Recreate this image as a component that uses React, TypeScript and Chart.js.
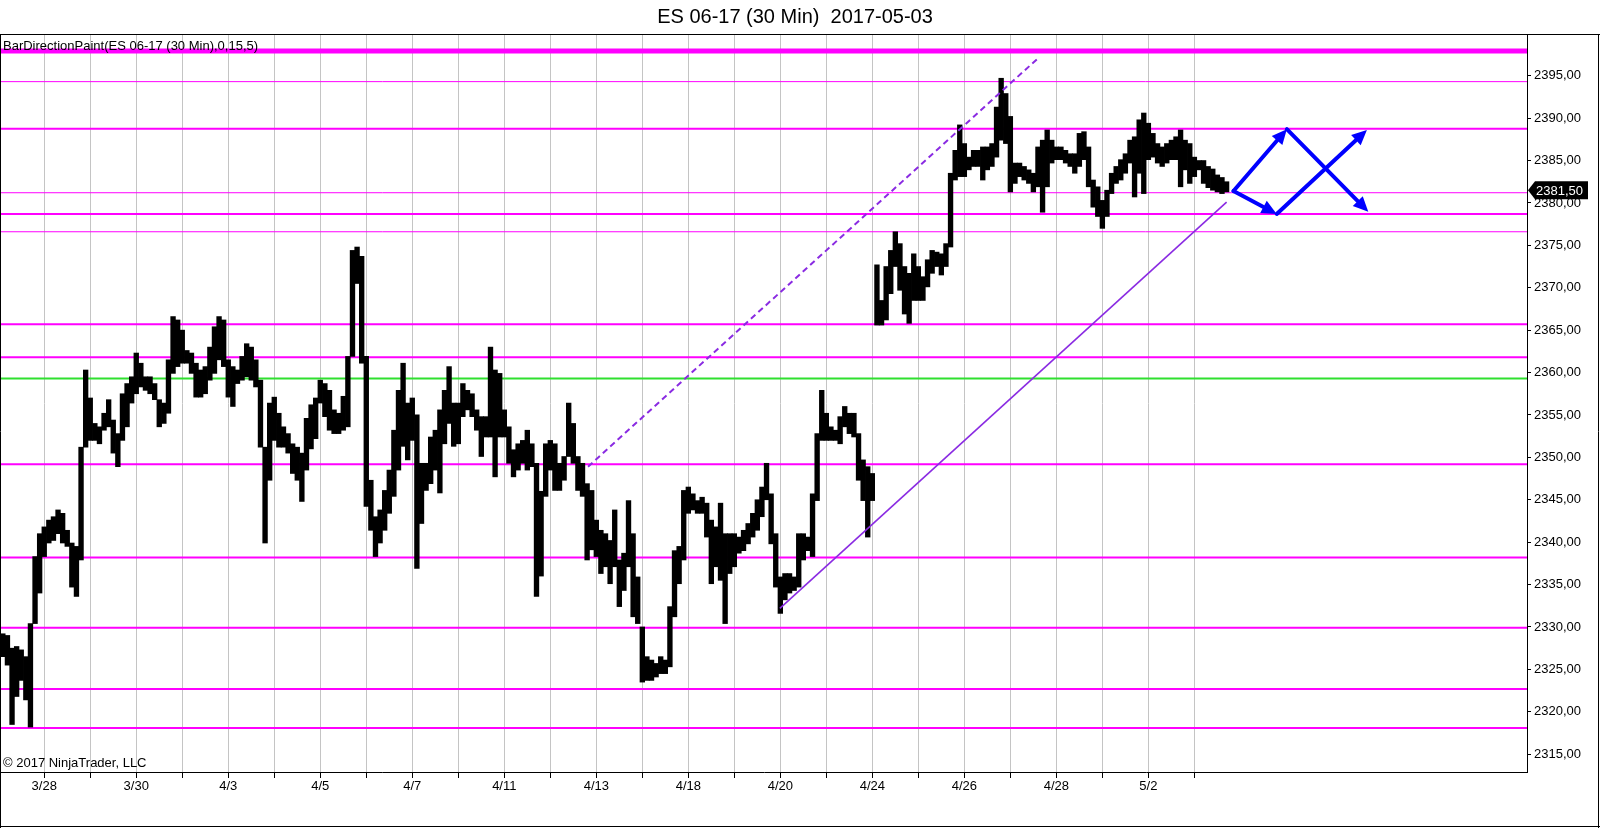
import { useEffect, useRef } from 'react';
import { Chart, registerables } from 'chart.js';

Chart.register(...registerables);

const TITLE = 'ES 06-17 (30 Min)  2017-05-03';
const INDICATOR_LABEL = 'BarDirectionPaint(ES 06-17 (30 Min),0,15,5)';
const COPYRIGHT = '\u00A9 2017 NinjaTrader, LLC';
const FONT = '"Liberation Sans", Arial, sans-serif';

// trading days (one vertical grid line per session start); labels shown every second day
const dayLabels = ['3/28', '3/29', '3/30', '3/31', '4/3', '4/4', '4/5', '4/6', '4/7', '4/10', '4/11', '4/12', '4/13',
  '4/17', '4/18', '4/19', '4/20', '4/21', '4/24', '4/25', '4/26', '4/27', '4/28', '5/1', '5/2', '5/3'];

// price bars: one range per 1/10 of a session, first one 0.9 day before 3/28
const firstSlotDay = -0.9;
const slotsPerDay = 10;
const lows = [
  2326.5, 2325.5, 2318.5, 2321.8, 2323.7, 2321.4, 2318.2, 2330.4, 2334.0,
  2338.3, 2339.9, 2340.2, 2341.0, 2339.9, 2339.5, 2334.7, 2333.6, 2337.9, 2351.2,
  2352.0, 2352.0, 2351.6, 2353.2, 2353.6, 2350.5, 2348.9, 2352.0, 2353.6, 2356.4,
  2357.5, 2358.3, 2357.9, 2357.5, 2356.8, 2353.6, 2354.0, 2355.2, 2359.9, 2360.7,
  2361.1, 2361.1, 2359.9, 2357.1, 2357.1, 2357.5, 2359.1, 2359.9, 2361.5, 2360.7,
  2357.1, 2356.0, 2358.7, 2359.1, 2359.5, 2359.1, 2358.3, 2351.2, 2339.9, 2347.3,
  2352.0, 2351.2, 2351.2, 2350.5, 2348.1, 2347.3, 2344.8, 2348.5, 2351.0, 2352.2,
  2356.4, 2354.8, 2353.2, 2352.8, 2352.8, 2353.2, 2353.6, 2361.9, 2370.5, 2361.1,
  2344.2, 2341.4, 2338.3, 2339.9, 2341.4, 2343.4, 2345.4, 2348.5, 2351.3, 2349.7,
  2352.0, 2336.9, 2342.2, 2346.1, 2346.9, 2348.5, 2345.8, 2351.6, 2354.0, 2351.3,
  2351.6, 2354.8, 2355.6, 2354.8, 2353.2, 2350.1, 2352.4, 2352.4, 2347.7, 2352.4,
  2352.4, 2349.3, 2347.7, 2348.5, 2349.3, 2348.5, 2348.9, 2333.6, 2336.0, 2345.4,
  2348.5, 2346.1, 2346.1, 2347.3, 2350.1, 2349.3, 2346.1, 2345.4, 2337.9, 2339.1,
  2338.3, 2336.3, 2337.1, 2335.1, 2337.1, 2332.4, 2334.3, 2337.1, 2331.2, 2330.4,
  2323.5, 2323.7, 2323.7, 2324.1, 2324.5, 2324.5, 2325.3, 2331.2, 2335.1, 2337.9,
  2343.4, 2343.8, 2343.4, 2343.4, 2340.6, 2335.1, 2337.1, 2335.5, 2330.4, 2336.3,
  2337.1, 2338.7, 2339.0, 2339.8, 2340.6, 2341.4, 2343.0, 2345.0, 2339.8, 2334.7,
  2331.6, 2333.2, 2334.0, 2334.3, 2334.7, 2337.9, 2339.0, 2338.3, 2344.9, 2352.0,
  2352.0, 2352.0, 2352.0, 2351.6, 2353.6, 2352.8, 2352.4, 2347.3, 2344.9, 2340.6,
  2344.9, 2365.6, 2365.6, 2366.2, 2369.3, 2372.5, 2369.7, 2366.9, 2365.8, 2368.5,
  2368.5, 2368.5, 2370.1, 2371.7, 2372.5, 2371.5, 2372.5, 2374.8, 2382.7, 2383.1,
  2383.1, 2383.9, 2384.3, 2384.3, 2382.7, 2383.9, 2384.3, 2385.4, 2387.4, 2387.0,
  2381.3, 2382.3, 2383.1, 2382.7, 2382.3, 2381.3, 2381.9, 2378.9, 2381.9, 2384.7,
  2385.1, 2385.1, 2384.7, 2384.3, 2383.5, 2384.3, 2385.1, 2381.9, 2379.5, 2378.4,
  2377.0, 2378.4, 2381.1, 2382.3, 2382.7, 2383.5, 2384.7, 2380.7, 2383.5, 2381.1,
  2385.1, 2385.4, 2384.7, 2384.3, 2384.7, 2385.1, 2385.1, 2381.9, 2383.9, 2382.3,
  2383.1, 2383.9, 2382.3, 2381.8, 2381.5, 2381.3, 2381.1, 2381.3,
];
const highs = [
  2329.2, 2329.0, 2327.5, 2327.7, 2327.3, 2326.5, 2330.4, 2338.3, 2341.0,
  2341.8, 2342.6, 2343.0, 2343.8, 2343.4, 2341.4, 2339.9, 2339.5, 2351.2, 2360.3,
  2357.0, 2354.0, 2353.6, 2355.2, 2356.8, 2354.4, 2352.8, 2357.5, 2358.7, 2359.5,
  2362.3, 2361.1, 2359.5, 2359.5, 2358.7, 2356.8, 2356.4, 2361.5, 2366.6, 2366.2,
  2365.0, 2362.6, 2362.3, 2361.1, 2360.3, 2360.7, 2363.0, 2365.4, 2366.6, 2366.2,
  2361.5, 2360.7, 2360.3, 2361.9, 2363.4, 2363.0, 2361.5, 2359.1, 2351.2, 2356.4,
  2357.1, 2355.2, 2353.6, 2352.8, 2351.6, 2351.2, 2350.5, 2354.6, 2356.2, 2357.0,
  2359.1, 2358.7, 2357.9, 2355.6, 2355.2, 2357.2, 2361.9, 2374.4, 2374.8, 2373.7,
  2361.9, 2347.3, 2343.0, 2343.8, 2346.1, 2348.5, 2353.2, 2357.9, 2361.1, 2356.4,
  2357.0, 2355.0, 2349.3, 2349.3, 2352.4, 2353.2, 2355.6, 2357.9, 2360.7, 2356.4,
  2356.4, 2358.7, 2357.9, 2357.5, 2355.6, 2354.8, 2354.8, 2363.0, 2360.3, 2359.9,
  2355.6, 2353.6, 2350.9, 2351.6, 2352.0, 2353.2, 2351.6, 2349.3, 2346.0, 2351.6,
  2352.0, 2351.6, 2349.3, 2350.1, 2356.4, 2354.0, 2350.1, 2349.3, 2346.9, 2346.1,
  2342.6, 2341.4, 2341.0, 2340.2, 2343.8, 2337.9, 2338.7, 2344.9, 2341.0, 2335.9,
  2330.0, 2326.5, 2326.1, 2325.7, 2326.5, 2326.1, 2332.4, 2339.0, 2339.5, 2346.1,
  2346.5, 2345.7, 2344.9, 2345.3, 2344.6, 2342.6, 2341.8, 2344.6, 2341.0, 2341.0,
  2341.0, 2340.6, 2341.4, 2342.2, 2343.4, 2345.0, 2346.5, 2349.3, 2345.7, 2341.0,
  2335.9, 2336.3, 2336.3, 2335.9, 2341.0, 2341.0, 2340.6, 2345.7, 2352.8, 2357.9,
  2355.2, 2353.6, 2353.2, 2354.8, 2356.0, 2355.2, 2355.2, 2352.8, 2349.7, 2348.9,
  2348.1, 2372.7, 2368.5, 2372.5, 2374.4, 2376.6, 2375.2, 2372.5, 2371.7, 2374.0,
  2372.5, 2371.3, 2373.3, 2374.4, 2374.2, 2374.0, 2375.2, 2383.5, 2386.2, 2389.2,
  2387.0, 2385.4, 2386.2, 2386.2, 2386.6, 2386.6, 2387.0, 2391.3, 2394.7, 2392.9,
  2390.2, 2384.7, 2384.7, 2384.3, 2383.9, 2383.5, 2386.6, 2387.4, 2388.6, 2387.4,
  2386.6, 2386.6, 2386.2, 2385.8, 2385.8, 2388.2, 2388.4, 2386.6, 2382.7, 2381.9,
  2380.3, 2381.5, 2383.5, 2384.3, 2385.1, 2385.8, 2387.4, 2387.8, 2389.8, 2390.6,
  2389.4, 2388.2, 2387.0, 2386.6, 2387.0, 2387.4, 2387.8, 2388.6, 2387.4, 2387.0,
  2385.4, 2385.0, 2385.0, 2384.3, 2384.0, 2383.3, 2383.0, 2382.5,
];
const lastPrice = 2381.5;

// horizontal price levels
const levelPrices = [2397.9, 2394.3, 2388.75, 2381.2, 2378.7, 2376.6, 2365.7, 2361.8, 2359.3, 2349.2, 2338.2, 2329.9, 2322.7, 2318.1];
const levelWidths = [5, 1, 2, 1, 2, 1, 2, 2, 2, 2, 2, 2, 2, 2];
const levelColors = ['#ff00ff', '#ff00ff', '#ff00ff', '#ff00ff', '#ff00ff', '#ff00ff', '#ff00ff', '#ff00ff', '#2fe02f',
  '#ff00ff', '#ff00ff', '#ff00ff', '#ff00ff', '#ff00ff'];

// trend lines (day position, price)
const trendStartDay = [11.82, 15.99];
const trendStartPrice = [2348.9, 2332.2];
const trendEndDay = [21.6, 25.7];
const trendEndPrice = [2397.05, 2380.1];
const trendDashed = [true, false];

// blue projection arrows (day position, price)
const arrowFromDay = [25.85, 27.01, 25.85, 26.79];
const arrowFromPrice = [2381.4, 2388.7, 2381.4, 2378.7];
const arrowToDay = [27.01, 28.78, 26.79, 28.75];
const arrowToPrice = [2388.7, 2378.95, 2378.7, 2388.6];

const xMin = -0.94;
const xMax = 32.23;
const yMin = 2312.9;
const yMax = 2399.8;

function drawArrow(ctx: CanvasRenderingContext2D, x1: number, y1: number, x2: number, y2: number) {
  const ang = Math.atan2(y2 - y1, x2 - x1);
  const headLen = 15;
  const headW = 7;
  const bx = x2 - headLen * Math.cos(ang);
  const by = y2 - headLen * Math.sin(ang);
  ctx.beginPath();
  ctx.moveTo(x1, y1);
  ctx.lineTo(bx, by);
  ctx.stroke();
  ctx.beginPath();
  ctx.moveTo(x2, y2);
  ctx.lineTo(bx + headW * Math.sin(ang), by - headW * Math.cos(ang));
  ctx.lineTo(bx - headW * Math.sin(ang), by + headW * Math.cos(ang));
  ctx.closePath();
  ctx.fill();
}

const overlayPlugin = {
  id: 'ntOverlay',
  afterDraw(chart: any) {
    const ctx: CanvasRenderingContext2D = chart.ctx;
    const xs = chart.scales.x;
    const ys = chart.scales.y;
    const W = chart.width;
    const H = chart.height;
    ctx.save();
    // arrows
    ctx.strokeStyle = '#0000ff';
    ctx.fillStyle = '#0000ff';
    ctx.lineWidth = 4;
    ctx.lineCap = 'round';
    for (let i = 0; i < arrowFromDay.length; i++) {
      drawArrow(ctx,
        xs.getPixelForValue(arrowFromDay[i]), ys.getPixelForValue(arrowFromPrice[i]),
        xs.getPixelForValue(arrowToDay[i]), ys.getPixelForValue(arrowToPrice[i]));
    }
    // frame
    ctx.strokeStyle = '#000';
    ctx.lineWidth = 1;
    ctx.lineCap = 'butt';
    const top = chart.chartArea.top;
    ctx.beginPath();
    ctx.moveTo(0, top - 0.5); ctx.lineTo(W, top - 0.5);
    ctx.moveTo(0.5, top); ctx.lineTo(0.5, H);
    ctx.moveTo(W - 1.5, top); ctx.lineTo(W - 1.5, H);
    ctx.moveTo(0, H - 1.5); ctx.lineTo(W, H - 1.5);
    ctx.stroke();
    // title
    ctx.fillStyle = '#000';
    ctx.font = '20px ' + FONT;
    ctx.textAlign = 'center';
    ctx.textBaseline = 'middle';
    ctx.fillText(TITLE, 795, 17);
    // indicator label & copyright
    ctx.font = '13px ' + FONT;
    ctx.textAlign = 'left';
    ctx.fillText(INDICATOR_LABEL, 3, top + 11);
    ctx.fillText(COPYRIGHT, 3, chart.chartArea.bottom - 9);
    // last price marker
    const py = ys.getPixelForValue(lastPrice);
    const ax = chart.chartArea.right + 1;
    ctx.beginPath();
    ctx.moveTo(ax, py);
    ctx.lineTo(ax + 7, py - 9);
    ctx.lineTo(ax + 60, py - 9);
    ctx.lineTo(ax + 60, py + 9);
    ctx.lineTo(ax + 7, py + 9);
    ctx.closePath();
    ctx.fill();
    ctx.fillStyle = '#fff';
    ctx.font = '13px ' + FONT;
    ctx.fillText(lastPrice.toFixed(2).replace('.', ','), ax + 8, py + 1);
    ctx.restore();
  },
};

export default function App() {
  const ref = useRef<HTMLCanvasElement>(null);
  useEffect(() => {
    const canvas = ref.current;
    if (!canvas) return;
    const barData = lows.map((lo, j) => ({ x: firstSlotDay + j / slotsPerDay, y: [lo, highs[j]] }));
    const levelSets = levelPrices.map((p, i) => ({
      type: 'line' as const,
      data: [{ x: xMin, y: p }, { x: xMax, y: p }],
      borderColor: levelColors[i],
      borderWidth: levelWidths[i],
      pointRadius: 0,
      fill: false,
      order: 3,
    }));
    const trendSets = trendStartDay.map((d, i) => ({
      type: 'line' as const,
      data: [{ x: d, y: trendStartPrice[i] }, { x: trendEndDay[i], y: trendEndPrice[i] }],
      borderColor: '#8a2be2',
      borderWidth: trendDashed[i] ? 2 : 1.6,
      borderDash: trendDashed[i] ? [6, 4] : [],
      pointRadius: 0,
      fill: false,
      order: 1,
    }));
    const chart = new Chart(canvas, {
      type: 'bar',
      data: {
        datasets: [
          ...levelSets,
          {
            type: 'bar' as const,
            data: barData as any,
            backgroundColor: '#000',
            borderWidth: 0,
            barThickness: 4.7,
            grouped: false,
            order: 2,
          },
          ...trendSets,
        ] as any,
      },
      options: {
        responsive: false,
        devicePixelRatio: 1,
        animation: false,
        events: [],
        layout: { padding: { top: 35, left: 1, right: 0, bottom: 0 } },
        plugins: { legend: { display: false }, title: { display: false }, tooltip: { enabled: false } },
        scales: {
          x: {
            type: 'linear',
            min: xMin,
            max: xMax,
            offset: false,
            afterBuildTicks: (axis: any) => {
              axis.ticks = dayLabels.map((_, k) => ({ value: k }));
            },
            afterFit: (s: any) => { s.height = 56; },
            grid: { offset: false, color: '#c4c4c4', lineWidth: 1, tickColor: '#000', tickLength: 6, drawOnChartArea: true },
            border: { display: true, color: '#000', width: 1 },
            ticks: {
              autoSkip: false,
              maxRotation: 0,
              minRotation: 0,
              padding: 1,
              color: '#000',
              font: { family: FONT, size: 13 },
              callback: (v: any) => {
                const k = Math.round(Number(v));
                return k % 2 === 0 ? dayLabels[k] : '';
              },
            },
          },
          y: {
            type: 'linear',
            position: 'right',
            min: yMin,
            max: yMax,
            afterFit: (s: any) => { s.width = 73; },
            grid: { drawOnChartArea: false, tickLength: 4, tickColor: '#000' },
            border: { display: true, color: '#000', width: 1 },
            ticks: {
              stepSize: 5,
              includeBounds: false,
              padding: 3,
              color: '#000',
              font: { family: FONT, size: 13 },
              callback: (v: any) => Number(v).toFixed(2).replace('.', ','),
            },
          },
        },
      } as any,
      plugins: [overlayPlugin],
    });
    return () => chart.destroy();
  }, []);
  return (
    <div style={{ position: 'fixed', left: 0, top: 0, width: 1600, height: 828, background: '#fff' }}>
      <canvas ref={ref} width={1600} height={828} style={{ width: 1600, height: 828, display: 'block' }} />
    </div>
  );
}
